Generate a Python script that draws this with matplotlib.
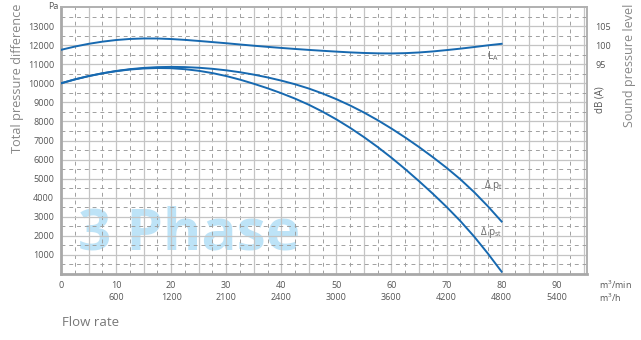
import matplotlib
matplotlib.use("Agg")
import matplotlib.pyplot as plt
import numpy as np

plt.rcParams['font.family'] = ['Open Sans', 'DejaVu Sans']
plt.rcParams['mathtext.fontset'] = 'custom'
plt.rcParams['mathtext.rm'] = 'Open Sans'
plt.rcParams['mathtext.it'] = 'Open Sans'

# ---- data ----
flow = [0, 2.5, 5, 7.5, 10, 12.5, 15, 17.5, 20, 22.5, 25, 27.5, 30, 32.5, 35, 37.5,
        40, 42.5, 45, 47.5, 50, 52.5, 55, 57.5, 60, 62.5, 65, 67.5, 70, 72.5, 75, 77.5, 80]
dp_t = [10000, 10202, 10376, 10524, 10645, 10739, 10806, 10847, 10860, 10849, 10815,
        10759, 10680, 10579, 10455, 10309, 10140, 9949, 9724, 9463, 9167, 8836, 8468,
        8065, 7626, 7157, 6658, 6129, 5570, 4967, 4296, 3553, 2750]
dp_st = [10000, 10202, 10376, 10519, 10635, 10721, 10776, 10800, 10790, 10739, 10655,
         10534, 10380, 10191, 9975, 9739, 9480, 9195, 8874, 8510, 8107, 7663, 7178,
         6657, 6096, 5499, 4868, 4211, 3520, 2779, 1966, 1075, 120]
la_db = [98.77, 99.62, 100.34, 100.91, 101.34, 101.62, 101.75, 101.74, 101.6, 101.38,
         101.1, 100.8, 100.5, 100.17, 99.85, 99.55, 99.27, 99.0, 98.75, 98.52, 98.3,
         98.1, 97.95, 97.85, 97.82, 97.9, 98.08, 98.35, 98.7, 99.08, 99.5, 99.95, 100.35]

x_ticks_min = [0, 10, 20, 30, 40, 50, 60, 70, 80, 90]
x_ticks_h = ["", "600", "1200", "2100", "2400", "3000", "3600", "4200", "4800", "5400"]
y_ticks = list(range(1000, 14000, 1000))
db_ticks = [95, 100, 105]

blue = '#1769b0'
txt = '#555555'

fig = plt.figure(figsize=(6.41, 3.40), dpi=100)
ax = fig.add_axes([61/641, 1-274/340, (587-61)/641, (274-7)/340])
ax.set_xlim(0, 95.5)
ax.set_ylim(0, 14000)

# grid
for v in np.arange(5, 95.5, 5):
    ax.axvline(v, color='#c4c4c4', lw=0.9, zorder=0.5)
for v in np.arange(2.5, 95.5, 5):
    ax.axvline(v, color='#a0a0a0', lw=0.7, ls=(0, (4, 4)), zorder=0.5)
for h in range(1000, 14000, 1000):
    ax.axhline(h, color='#c4c4c4', lw=0.9, zorder=0.5)
for h in range(500, 14000, 1000):
    ax.axhline(h, color='#a0a0a0', lw=0.7, ls=(0, (4, 4)), zorder=0.5)

# watermark
ax.text(23.3, 2050, "3 Phase", color='#bde3f7', fontsize=42, fontweight='bold',
        ha='center', va='center', zorder=0.1)

ax.plot(flow, dp_t, color=blue, lw=1.4, zorder=3)
ax.plot(flow, dp_st, color=blue, lw=1.4, zorder=3)

for side in ['left', 'bottom']:
    ax.spines[side].set_color('#a8a8a8')
    ax.spines[side].set_linewidth(2.0)
for side in ['top', 'right']:
    ax.spines[side].set_color('#b0b0b0')
    ax.spines[side].set_linewidth(1.4)

ax.set_yticks(y_ticks)
ax.set_yticklabels([str(v) for v in y_ticks])
ax.set_xticks(x_ticks_min)
ax.set_xticklabels([f"{m}\n{h}" if h else f"{m}" for m, h in zip(x_ticks_min, x_ticks_h)],
                   linespacing=1.5)
ax.tick_params(axis='both', length=0, labelsize=6.5, colors=txt)
ax.tick_params(axis='x', pad=5)
ax.tick_params(axis='y', pad=5)

ax.text(-0.5, 14050, "Pa", fontsize=6.5, color=txt, ha='right', va='center')
ax.text(97.7, -580, r"m$^3$/min", fontsize=6.5, color=txt, ha='left', va='center')
ax.text(97.7, -1270, r"m$^3$/h", fontsize=6.5, color=txt, ha='left', va='center')

ax.text(76.8, 4650, r"$\Delta$ p$_{\rm t}$", fontsize=7.2, color='#666666', ha='left', va='center')
ax.text(76.0, 2150, r"$\Delta$ p$_{\rm st}$", fontsize=7.2, color='#666666', ha='left', va='center')

# twin axis for sound level
ax2 = ax.twinx()
ax2.set_ylim(40, 110)
ax2.plot(flow, la_db, color=blue, lw=1.4, zorder=3)
ax2.set_yticks(db_ticks)
ax2.tick_params(axis='y', length=0, labelsize=6.5, colors=txt, pad=6)
for s in ax2.spines.values():
    s.set_visible(False)
ax2.text(77.3, 97.0, r"L$_{\rm A}$", fontsize=7.2, color='#666666', ha='left', va='center')

fig.text(600/641, 1-100/340, "dB (A)", rotation=90, fontsize=7, color=txt, ha='center', va='center')
fig.text(630/641, 1-65/340, "Sound pressure level", rotation=90, fontsize=9, color='#888888',
         ha='center', va='center')
fig.text(18/641, 1-78/340, "Total pressure difference", rotation=90, fontsize=9.2, color='#888888',
         ha='center', va='center')
fig.text(62/641, 1-322/340, "Flow rate", fontsize=9.5, color='#777777', ha='left', va='center')

fig.savefig("out.png", dpi=100)
